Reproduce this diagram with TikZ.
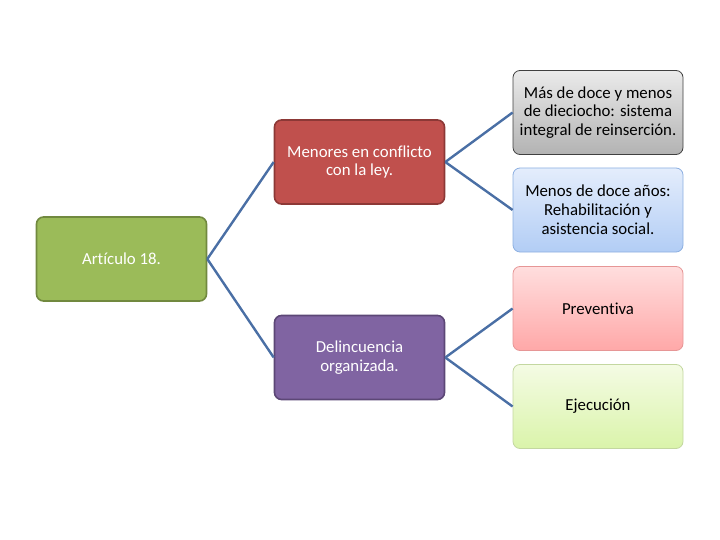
\documentclass[tikz,border=0pt]{standalone}
\usepackage{fontspec}
\setmainfont{Carlito}[Ligatures=NoCommon]
\usetikzlibrary{positioning}
\definecolor{verde}{HTML}{9BBB59}
\definecolor{verdeborde}{HTML}{71893F}
\definecolor{rojo}{HTML}{C0504D}
\definecolor{rojoborde}{HTML}{8C3836}
\definecolor{morado}{HTML}{8064A2}
\definecolor{moradoborde}{HTML}{5C4776}
\definecolor{enlacecolor}{HTML}{4A6FA5}

\begin{document}
\begin{tikzpicture}[x=1pt,y=-1pt,
  caja/.style={rounded corners=7pt, minimum width=170pt, minimum height=84pt,
    align=center, line width=1.6pt, font=\fontsize{16.8}{18.8}\selectfont},
  hoja/.style={caja, line width=0.8pt},
  enlace/.style={draw=enlacecolor, line width=2.4pt}]
 \useasboundingbox (0,0) rectangle (720,540);
 \node[caja, fill=verde, draw=verdeborde, text=white] (art) at (121.5,259) {Artículo 18.};
 \node[caja, fill=rojo, draw=rojoborde, text=white] (men) at (359.5,162) {Menores en conflicto\\con la ley.};
 \node[caja, fill=morado, draw=moradoborde, text=white] (del) at (359.5,357.5) {Delincuencia\\organizada.};
 \node[hoja, top color=black!8, bottom color=black!30, draw=black!75] (mas) at (598,112.5) {Más de doce y menos\\de dieciocho: sistema\\integral de reinserción.};
 \node[hoja, top color={rgb,255:red,228;green,237;blue,252}, bottom color={rgb,255:red,178;green,205;blue,245}, draw={rgb,255:red,140;green,175;blue,225}] (mds) at (598,210) {Menos de doce años:\\Rehabilitación y\\asistencia social.};
 \node[hoja, top color={rgb,255:red,255;green,222;blue,222}, bottom color={rgb,255:red,255;green,168;blue,168}, draw={rgb,255:red,230;green,150;blue,150}] (pre) at (598,308.5) {Preventiva};
 \node[hoja, top color={rgb,255:red,244;green,251;blue,228}, bottom color={rgb,255:red,218;green,244;blue,170}, draw={rgb,255:red,195;green,215;blue,160}] (eje) at (598,406.5) {Ejecución};
  \draw[enlace] (art.east) -- (men.west);
  \draw[enlace] (art.east) -- (del.west);
  \draw[enlace] (men.east) -- (mas.west);
  \draw[enlace] (men.east) -- (mds.west);
  \draw[enlace] (del.east) -- (pre.west);
  \draw[enlace] (del.east) -- (eje.west);
\end{tikzpicture}
\end{document}
